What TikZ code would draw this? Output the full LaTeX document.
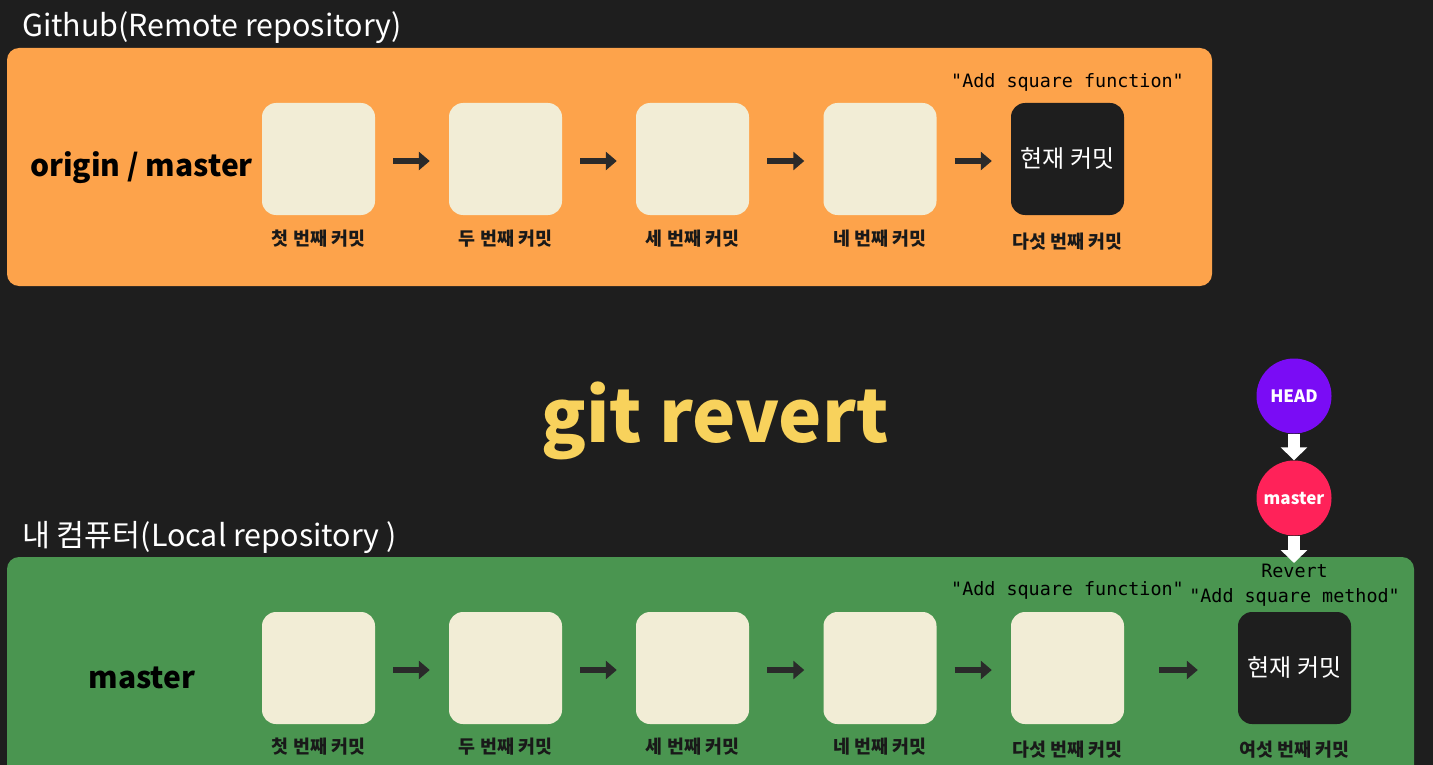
\documentclass[tikz,border=0pt]{standalone}
\usepackage{fontspec}
\setmainfont{Noto Sans CJK KR}
\newfontfamily\monof{DejaVu Sans Mono}
\usetikzlibrary{arrows.meta}
\definecolor{bgc}{HTML}{1E1E1E}
\definecolor{orangep}{HTML}{FDA34B}
\definecolor{greenp}{HTML}{4A9550}
\definecolor{creamc}{HTML}{F2EDD6}
\definecolor{darkc}{HTML}{1E1E1E}
\definecolor{arrowc}{HTML}{2A2A2A}
\definecolor{yellowc}{HTML}{F8D25C}
\definecolor{purplec}{HTML}{7A0CF5}
\definecolor{pinkc}{HTML}{FF2259}
\tikzset{
  commitbox/.style={rounded corners=14pt, minimum width=113pt, minimum height=112pt, inner sep=0pt, fill=creamc},
  curbox/.style={commitbox, fill=darkc, text=white, font=\fontsize{24}{28}\selectfont},
  clabel/.style={font=\fontsize{18.4}{22}\selectfont\bfseries, text=black!90, inner sep=0pt},
  mlabel/.style={font=\monof\fontsize{18.4}{21}\selectfont, text=black, inner sep=0pt},
  darrow/.style={draw=arrowc, line width=6pt, -{Triangle[length=11pt,width=18pt]}},
  warrow/.style={draw=white, line width=12pt, -{Triangle[length=13pt,width=26pt]}},
  title/.style={font=\fontsize{30.4}{36}\selectfont, text=white, anchor=west, inner sep=0pt},
  ptr/.style={circle, minimum size=75pt, inner sep=0pt, text=white, font=\fontsize{17}{20}\selectfont\bfseries}
}
\begin{document}
\begin{tikzpicture}[x=1pt,y=-1pt]
\useasboundingbox (0,0) rectangle (1433,765);
\fill[bgc] (0,0) rectangle (1433,765);
% panels
\fill[orangep, rounded corners=12pt] (7,48) rectangle (1212,286);
\fill[greenp, rounded corners=12pt] (7,557) rectangle (1414,800);
% titles
\node[title] (t1) at (22,28) {Github(Remote repository)};
\node[title] (t2) at (22,537) {내 컴퓨터(Local repository )};
\node[font=\fontsize{30}{36}\selectfont\bfseries, text=black, inner sep=0pt] (om) at (141.5,168) {origin / master};
\node[font=\fontsize{30}{36}\selectfont\bfseries, text=black, inner sep=0pt] (lm) at (142,678) {master};
\node[font=\fontsize{73}{86}\selectfont\bfseries, text=yellowc, inner sep=0pt] (gr) at (715,421) {git revert};
% remote commits
\node[commitbox] (r1) at (318.5,159) {};
\node[commitbox] (r2) at (505.5,159) {};
\node[commitbox] (r3) at (692.5,159) {};
\node[commitbox] (r4) at (880,159) {};
\node[curbox] (r5) at (1067.5,159) {현재 커밋};
\node[clabel] (rl1) at (318.5,239) {첫 번째 커밋};
\node[clabel] (rl2) at (505.5,239) {두 번째 커밋};
\node[clabel] (rl3) at (692.5,239) {세 번째 커밋};
\node[clabel] (rl4) at (880,239) {네 번째 커밋};
\node[clabel] (rl5) at (1067.5,242) {다섯 번째 커밋};
\node[mlabel] (rm5) at (1067.5,82) {"Add square function"};
\foreach \a/\b in {r1/r2,r2/r3,r3/r4,r4/r5}{
  \draw[darrow, shorten <=18pt, shorten >=19pt] ([yshift=-2pt]\a.east) -- ([yshift=-2pt]\b.west);
}
% local commits
\node[commitbox] (l1) at (318.5,668) {};
\node[commitbox] (l2) at (505.5,668) {};
\node[commitbox] (l3) at (692.5,668) {};
\node[commitbox] (l4) at (880,668) {};
\node[commitbox] (l5) at (1067.5,668) {};
\node[curbox] (l6) at (1294.5,668) {현재 커밋};
\node[clabel] (ll1) at (318.5,747) {첫 번째 커밋};
\node[clabel] (ll2) at (505.5,747) {두 번째 커밋};
\node[clabel] (ll3) at (692.5,747) {세 번째 커밋};
\node[clabel] (ll4) at (880,747) {네 번째 커밋};
\node[clabel] (ll5) at (1067.5,750) {다섯 번째 커밋};
\node[clabel] (ll6) at (1294.5,750) {여섯 번째 커밋};
\node[mlabel] (lm5) at (1067.5,590) {"Add square function"};
\node[mlabel] (lm6a) at (1294.5,571) {Revert};
\node[mlabel] (lm6b) at (1294.5,597) {"Add square method"};
\foreach \a/\b in {l1/l2,l2/l3,l3/l4,l4/l5}{
  \draw[darrow, shorten <=18pt, shorten >=19pt] ([yshift=-2pt]\a.east) -- ([yshift=-2pt]\b.west);
}
\draw[darrow, shorten <=35pt, shorten >=40pt] ([yshift=-2pt]l5.east) -- ([yshift=-2pt]l6.west);
% pointers
\node[ptr, fill=purplec] (head) at (1294,396) {HEAD};
\node[ptr, fill=pinkc] (mst) at (1294,498) {master};
\coordinate (tip) at (1294,563);
\draw[warrow] (head.south) -- (mst.north);
\draw[warrow] (mst.south) -- (tip);
\end{tikzpicture}
\end{document}
